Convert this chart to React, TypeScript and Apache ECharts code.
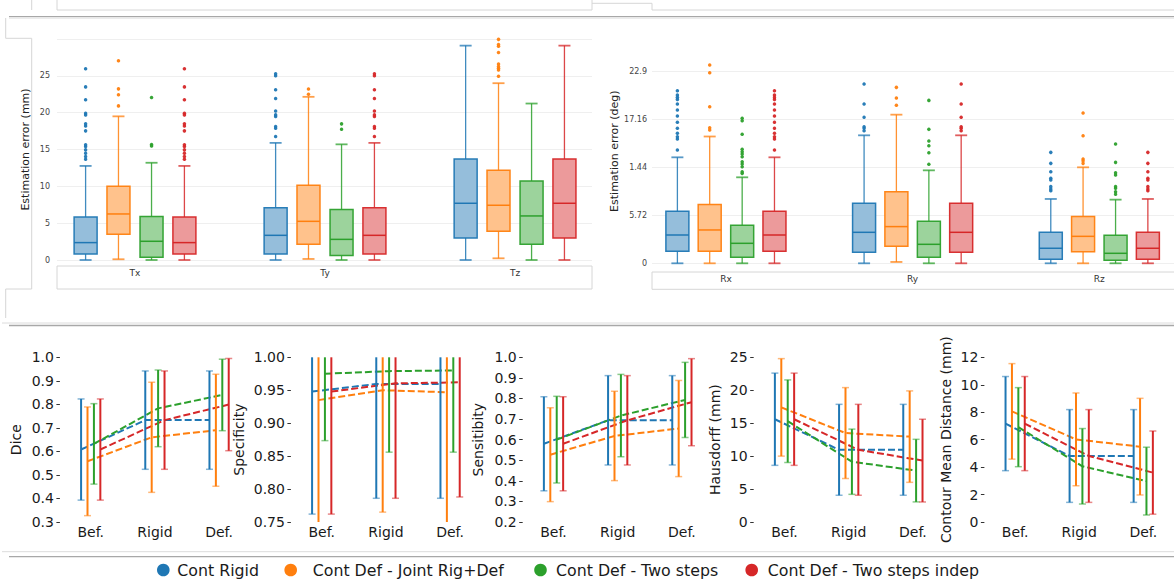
import React, { useEffect, useRef } from 'react';
import * as echarts from 'echarts';

// ---------- shared ----------
const METHODS = ['Cont Rigid', 'Cont Def - Joint Rig+Def', 'Cont Def - Two steps', 'Cont Def - Two steps indep'];
const COLORS = ['#1f77b4', '#ff7f0e', '#2ca02c', '#d62728'];
const FILLS = ['#8fbbd9', '#ffbf86', '#97d197', '#eb9596'];
const FONT = '"DejaVu Sans", sans-serif';

// ---------- top-left: translation errors (mm) ----------
const TRANS_CATEGORIES = ['Tx', 'Ty', 'Tz'];
// [min, Q1, median, Q3, max] per category
const transBoxRigid = [[0, 0.82, 2.36, 5.84, 12.77], [0, 0.82, 3.35, 7.1, 15.9], [0, 3.0, 7.7, 13.7, 29.1]];
const transBoxJoint = [[0.1, 3.5, 6.25, 10.0, 19.5], [0.14, 2.13, 5.25, 10.14, 22.15], [0.23, 3.9, 7.43, 12.2, 24.0]];
const transBoxTwoSteps = [[0, 0.36, 2.54, 5.9, 13.2], [0, 0.6, 2.8, 6.84, 15.7], [0, 2.13, 5.98, 10.73, 21.24]];
const transBoxIndep = [[0, 0.82, 2.36, 5.84, 12.77], [0, 0.82, 3.35, 7.1, 15.9], [0, 3.0, 7.7, 13.7, 29.1]];
const transOutRigid = [
  [13.68, 14.04, 14.49, 14.95, 15.4, 15.63, 17.53, 18.2, 18.48, 19.7, 19.93, 21.74, 23.5, 25.95],
  [16.76, 17.89, 18.12, 19.47, 19.7, 20.24, 21.92, 23.1, 25.0, 25.27],
  [],
];
const transOutJoint = [
  [20.92, 22.42, 23.23, 27.04],
  [22.5, 23.2],
  [24.95, 25.8, 26.04, 26.27, 26.59, 28.17, 29.03, 29.26, 29.95],
];
const transOutTwoSteps = [[15.49, 15.67, 22.06], [17.75, 18.48], []];
const transOutIndep = [
  [13.68, 14.04, 14.49, 14.95, 15.4, 15.63, 17.53, 18.2, 18.48, 19.7, 19.93, 21.74, 23.5, 25.95],
  [16.76, 17.89, 18.12, 19.47, 19.7, 20.24, 21.92, 23.1, 25.0, 25.27],
  [],
];

// ---------- top-right: rotation errors (deg) ----------
const ROT_CATEGORIES = ['Rx', 'Ry', 'Rz'];
const ROT_TICK_VALUES = [0, 5.72, 11.44, 17.16, 22.88];
const ROT_TICK_LABELS = ['0', '5.72', '1.44', '17.16', '22.9'];
const rotBoxRigid = [[0, 1.43, 3.37, 6.19, 12.62], [0, 1.31, 3.69, 7.14, 15.24], [0, 0.48, 1.79, 3.69, 7.66]];
const rotBoxJoint = [[0, 1.43, 3.97, 7.0, 15.1], [0.16, 2.02, 4.37, 8.53, 17.7], [0, 1.39, 3.21, 5.56, 11.43]];
const rotBoxTwoSteps = [[0, 0.71, 2.38, 4.52, 10.24], [0, 0.71, 2.26, 5.0, 11.07], [0, 0.36, 1.19, 3.33, 7.58]];
const rotBoxIndep = [[0, 1.43, 3.37, 6.19, 12.62], [0, 1.31, 3.69, 7.14, 15.24], [0, 0.48, 1.79, 3.69, 7.66]];
const rotOutRigid = [
  [13.49, 14.8, 15.08, 15.48, 16.07, 16.79, 17.54, 18.25, 18.97, 19.52, 19.76, 20.04, 20.56],
  [15.79, 16.07, 16.27, 17.38, 18.97, 21.35],
  [8.65, 8.85, 9.13, 9.92, 10.12, 10.91, 11.9, 13.21],
];
const rotOutJoint = [[15.87, 16.15, 18.65, 22.7, 23.61], [18.81, 19.68, 20.95], [11.9, 12.22, 12.42, 15.2, 17.9]];
const rotOutTwoSteps = [
  [10.71, 10.91, 11.51, 11.83, 12.1, 12.7, 13.02, 13.29, 13.57, 15.36, 16.98, 17.26],
  [11.79, 13.17, 14.01, 14.56, 15.95, 19.4],
  [8.21, 8.53, 8.93, 9.13, 10.52, 10.79, 12.02, 14.21],
];
const rotOutIndep = [
  [13.49, 14.8, 15.08, 15.48, 16.07, 16.79, 17.54, 18.25, 18.97, 19.52, 19.76, 20.04, 20.56],
  [15.79, 16.07, 16.27, 17.38, 18.97, 21.35],
  [8.65, 8.85, 9.13, 9.92, 10.12, 10.91, 11.9, 13.21],
];

// ---------- bottom: segmentation metrics (mean ± std per stage) ----------
const STAGES = ['Bef.', 'Rigid', 'Def.'];
const diceMean = [[0.608, 0.733, 0.733], [0.558, 0.66, 0.69], [0.632, 0.783, 0.84], [0.608, 0.733, 0.799]];
const diceStd = [[0.215, 0.209, 0.209], [0.231, 0.234, 0.238], [0.171, 0.163, 0.152], [0.215, 0.209, 0.196]];
const specMean = [[0.948, 0.9595, 0.9595], [0.935, 0.95, 0.947], [0.975, 0.979, 0.98], [0.948, 0.9605, 0.962]];
const specStd = [[0.186, 0.1735, 0.1735], [0.19, 0.185, 0.2], [0.1015, 0.123, 0.124], [0.186, 0.1745, 0.174]];
const sensMean = [[0.58, 0.694, 0.694], [0.527, 0.618, 0.654], [0.6, 0.717, 0.793], [0.58, 0.694, 0.782]];
const sensStd = [[0.2285, 0.217, 0.217], [0.228, 0.217, 0.2335], [0.2105, 0.2, 0.1825], [0.2285, 0.217, 0.2115]];
const hausMean = [[15.6, 10.96, 10.96], [17.4, 13.5, 12.96], [15.3, 9.15, 7.8], [15.6, 10.96, 9.32]];
const hausStd = [[7.0, 6.9, 6.9], [7.4, 6.9, 6.94], [6.27, 4.95, 4.75], [7.0, 6.9, 6.28]];
const cmdMean = [[7.17, 4.81, 4.81], [8.06, 6.02, 5.49], [6.91, 4.06, 2.98], [7.17, 4.81, 3.6]];
const cmdStd = [[3.43, 3.38, 3.38], [3.48, 3.38, 3.52], [2.88, 2.75, 2.47], [3.43, 3.38, 3.03]];

const METRIC_TITLES = ['Dice', 'Specificity', 'Sensitibity', 'Hausdorff (mm)', 'Contour Mean Distance (mm)'];
const METRIC_MEANS = [diceMean, specMean, sensMean, hausMean, cmdMean];
const METRIC_STDS = [diceStd, specStd, sensStd, hausStd, cmdStd];
const METRIC_RANGES = [[0.3, 1.0, 0.1, 1], [0.75, 1.0, 0.05, 2], [0.2, 1.0, 0.1, 1], [0, 25, 5, 0], [0, 12, 2, 0]];

// ---------- layout (pixels) ----------
const BOX_OFFSETS = [-0.26, -0.087, 0.087, 0.26];
const ERR_OFFSETS = [-0.15, -0.05, 0.05, 0.15];
const BOTTOM_LEFTS = [59.9, 290.9, 522.7, 753.7, 984.4];
const BOTTOM_NAME_GAPS = [37, 44.5, 37.5, 31.5, 31.5];

function App() {
  const ref = useRef<HTMLDivElement>(null);

  useEffect(() => {
    if (!ref.current) return;
    const chart = echarts.init(ref.current, null, { renderer: 'svg' });

    const grids: any[] = [];
    const xAxes: any[] = [];
    const yAxes: any[] = [];
    const series: any[] = [];

    // ---------- top box panels ----------
    const boxPanels = [
      {
        cats: TRANS_CATEGORIES,
        boxes: [transBoxRigid, transBoxJoint, transBoxTwoSteps, transBoxIndep],
        outs: [transOutRigid, transOutJoint, transOutTwoSteps, transOutIndep],
        grid: { left: 57, top: 39, width: 535, height: 221 },
        xMin: -0.4105, xMax: 2.405, labelMargin: 8,
        y: { min: 0, max: 30, interval: 5, labelMargin: 7, nameGap: 26.5,
             formatter: (v: number) => String(Math.round(v)), showMaxLine: true },
      },
      {
        cats: ROT_CATEGORIES,
        boxes: [rotBoxRigid, rotBoxJoint, rotBoxTwoSteps, rotBoxIndep],
        outs: [rotOutRigid, rotOutJoint, rotOutTwoSteps, rotOutIndep],
        grid: { left: 652, top: 39, width: 534, height: 224.3 },
        xMin: -0.396, xMax: 2.40, labelMargin: 11.5,
        y: { min: 0, max: 26.71, interval: 5.72, labelMargin: 5, nameGap: 30.5,
             formatter: (v: number) => {
               const i = ROT_TICK_VALUES.findIndex((t) => Math.abs(t - v) < 0.01);
               return i >= 0 ? ROT_TICK_LABELS[i] : '';
             }, showMaxLine: false },
      },
    ];
    const yNames = ['Estimation error (mm)', 'Estimation error (deg)'];

    boxPanels.forEach((p, pi) => {
      grids.push(p.grid);
      xAxes.push({
        type: 'value', gridIndex: pi, min: p.xMin, max: p.xMax,
        axisLine: { show: false, onZero: false }, axisTick: { show: false }, splitLine: { show: false },
        axisLabel: {
          customValues: [0, 1, 2],
          formatter: (v: number) => p.cats[Math.round(v)] ?? '',
          fontSize: 9, color: '#333', margin: p.labelMargin, fontFamily: FONT,
        },
      });
      yAxes.push({
        type: 'value', gridIndex: pi, min: p.y.min, max: p.y.max, interval: p.y.interval,
        axisLine: { show: false, onZero: false }, axisTick: { show: false },
        splitLine: { show: true, showMaxLine: p.y.showMaxLine, lineStyle: { color: '#efefef', width: 1 } },
        axisLabel: { fontSize: 8, color: '#444', margin: p.y.labelMargin, showMaxLabel: false,
                     formatter: p.y.formatter, fontFamily: FONT },
        name: yNames[pi], nameLocation: 'middle', nameGap: p.y.nameGap,
        nameTextStyle: { fontSize: 11, color: '#222', fontFamily: FONT },
      });
      for (let m = 0; m < 4; m++) {
        const color = COLORS[m];
        const fill = FILLS[m];
        series.push({
          type: 'custom', name: METHODS[m], xAxisIndex: pi, yAxisIndex: pi, silent: true, z: 3,
          data: p.cats.map((_, i) => [i + BOX_OFFSETS[m], ...p.boxes[m][i]]),
          renderItem: (params: any, api: any) => {
            const x = api.value(0);
            const pMin = api.coord([x, api.value(1)]);
            const pQ1 = api.coord([x, api.value(2)]);
            const pMed = api.coord([x, api.value(3)]);
            const pQ3 = api.coord([x, api.value(4)]);
            const pMax = api.coord([x, api.value(5)]);
            const cx = pMin[0];
            const hw = 11.5;
            const cw = 6;
            const st = { stroke: color, lineWidth: 1.3, opacity: 0.85 };
            return {
              type: 'group',
              children: [
                { type: 'line', shape: { x1: cx, y1: pQ1[1], x2: cx, y2: pMin[1] }, style: st },
                { type: 'line', shape: { x1: cx, y1: pQ3[1], x2: cx, y2: pMax[1] }, style: st },
                { type: 'line', shape: { x1: cx - cw, y1: pMin[1], x2: cx + cw, y2: pMin[1] }, style: { stroke: color, lineWidth: 1.8, opacity: 0.75 } },
                { type: 'line', shape: { x1: cx - cw, y1: pMax[1], x2: cx + cw, y2: pMax[1] }, style: { stroke: color, lineWidth: 1.8, opacity: 0.75 } },
                { type: 'rect', shape: { x: cx - hw, y: pQ3[1], width: hw * 2, height: pQ1[1] - pQ3[1] }, style: { fill, stroke: color, lineWidth: 1.5, opacity: 0.95 } },
                { type: 'line', shape: { x1: cx - hw, y1: pMed[1], x2: cx + hw, y2: pMed[1] }, style: { stroke: color, lineWidth: 1.5 } },
              ],
            };
          },
        });
        const pts: number[][] = [];
        p.outs[m].forEach((arr, i) => arr.forEach((v) => pts.push([i + BOX_OFFSETS[m], v])));
        series.push({
          type: 'scatter', name: METHODS[m], xAxisIndex: pi, yAxisIndex: pi, silent: true, z: 4,
          symbolSize: 3.5, itemStyle: { color, opacity: 0.95 }, data: pts,
        });
      }
    });

    // ---------- bottom metric panels ----------
    METRIC_TITLES.forEach((title, k) => {
      const gi = 2 + k;
      const [yMin, yMax, yInt, digits] = METRIC_RANGES[k];
      grids.push({ left: BOTTOM_LEFTS[k], top: 357.3, width: 190, height: 164.7 });
      xAxes.push({
        type: 'value', gridIndex: gi, min: -0.48, max: 2.48,
        axisLine: { show: false, onZero: false }, axisTick: { show: false }, splitLine: { show: false },
        axisLabel: {
          customValues: [0, 1, 2],
          formatter: (v: number) => STAGES[Math.round(v)] ?? '',
          fontSize: 14, color: '#1a1a1a', margin: 3, fontFamily: FONT,
        },
      });
      yAxes.push({
        type: 'value', gridIndex: gi, min: yMin, max: yMax, interval: yInt,
        axisLine: { show: false, onZero: false }, splitLine: { show: false },
        axisTick: { show: true, length: 3.5, lineStyle: { color: '#333', width: 1 } },
        axisLabel: { fontSize: 14, color: '#1a1a1a', margin: 6, fontFamily: FONT,
                     formatter: (v: number) => v.toFixed(digits) },
        name: title, nameLocation: 'middle', nameGap: BOTTOM_NAME_GAPS[k],
        nameTextStyle: { fontSize: 14, color: '#1a1a1a', fontFamily: FONT },
      });
      const means = METRIC_MEANS[k];
      const stds = METRIC_STDS[k];
      for (let m = 0; m < 4; m++) {
        const color = COLORS[m];
        series.push({
          type: 'line', name: METHODS[m], xAxisIndex: gi, yAxisIndex: gi, silent: true, z: 2,
          symbol: 'none', clip: false,
          lineStyle: { color, width: 2, type: [7, 3] },
          data: STAGES.map((_, i) => [i + ERR_OFFSETS[m], means[m][i]]),
        });
        series.push({
          type: 'custom', name: METHODS[m], xAxisIndex: gi, yAxisIndex: gi, silent: true, z: 3,
          data: STAGES.map((_, i) => [i + ERR_OFFSETS[m], means[m][i], stds[m][i]]),
          renderItem: (params: any, api: any) => {
            const x = api.value(0);
            const mu = api.value(1);
            const sd = api.value(2);
            let hi = mu + sd;
            let lo = mu - sd;
            const hiClip = hi > yMax;
            const loClip = lo < yMin;
            hi = Math.min(hi, yMax);
            lo = Math.max(lo, yMin);
            const pt = api.coord([x, hi]);
            const pb = api.coord([x, lo]);
            const cw = 3.5;
            const children: any[] = [
              { type: 'line', shape: { x1: pt[0], y1: pt[1], x2: pb[0], y2: pb[1] }, style: { stroke: color, lineWidth: 2 } },
            ];
            if (!hiClip) children.push({ type: 'line', shape: { x1: pt[0] - cw, y1: pt[1], x2: pt[0] + cw, y2: pt[1] }, style: { stroke: color, lineWidth: 1.5, opacity: 0.55 } });
            if (!loClip) children.push({ type: 'line', shape: { x1: pb[0] - cw, y1: pb[1], x2: pb[0] + cw, y2: pb[1] }, style: { stroke: color, lineWidth: 1.5, opacity: 0.55 } });
            return { type: 'group', children };
          },
        });
      }
    });

    // ---------- decorations & legend ----------
    const light = '#d6d6d6';
    const dark = '#a8a8a8';
    const ln = (x1: number, y1: number, x2: number, y2: number, stroke: string, w = 1) => ({
      type: 'line', silent: true, shape: { x1, y1, x2, y2 }, style: { stroke, lineWidth: w },
    });
    const graphic: any[] = [
      ln(31.7, 0, 31.7, 10, light),
      { type: 'rect', silent: true, shape: { x: 57, y: -5, width: 535, height: 15 }, style: { fill: 'none', stroke: light, lineWidth: 1 } },
      { type: 'polyline', silent: true, shape: { points: [[592, 3.3], [652, 3.3], [652, 10], [1180, 10]] }, style: { fill: 'none', stroke: light, lineWidth: 1 } },
      ln(9, 16.7, 1174, 16.7, dark, 1.3),
      ln(9, 18.5, 1174, 18.5, '#ececec', 1),
      { type: 'polyline', silent: true, shape: { points: [[5.7, 18], [5.7, 38.3], [31.7, 38.3], [31.7, 289], [5.7, 289], [5.7, 318]] }, style: { fill: 'none', stroke: light, lineWidth: 1 } },
      { type: 'rect', silent: true, shape: { x: 57, y: 266, width: 535, height: 23 }, style: { fill: 'none', stroke: light, lineWidth: 1 } },
      { type: 'rect', silent: true, shape: { x: 652, y: 272, width: 540, height: 17.3 }, style: { fill: 'none', stroke: light, lineWidth: 1 } },
      ln(2, 323, 1174, 323, '#dcdcdc', 1),
      ln(9, 325.5, 1174, 325.5, dark, 1.3),
      ln(2, 551.7, 1174, 551.7, '#dcdcdc', 1),
      ln(9, 556.7, 1174, 556.7, dark, 1.3),
    ];
    const legendDotX = [163.3, 290.7, 540.5, 751.7];
    const legendTextX = [177.3, 312.7, 556, 767.7];
    METHODS.forEach((name, m) => {
      graphic.push({ type: 'circle', silent: true, shape: { cx: legendDotX[m], cy: 570, r: 6.3 }, style: { fill: COLORS[m] } });
      graphic.push({
        type: 'text', silent: true, x: legendTextX[m], y: 570,
        style: { text: name, fill: '#1a1a1a', fontSize: 15.8, fontFamily: FONT, align: 'left', verticalAlign: 'middle' },
      });
    });

    chart.setOption({
      animation: false,
      backgroundColor: '#ffffff',
      textStyle: { fontFamily: FONT },
      grid: grids,
      xAxis: xAxes,
      yAxis: yAxes,
      series,
      graphic,
    });

    return () => chart.dispose();
  }, []);

  return <div ref={ref} style={{ position: 'fixed', left: 0, top: 0, width: 1174, height: 581, background: '#fff' }} />;
}

export default App;
